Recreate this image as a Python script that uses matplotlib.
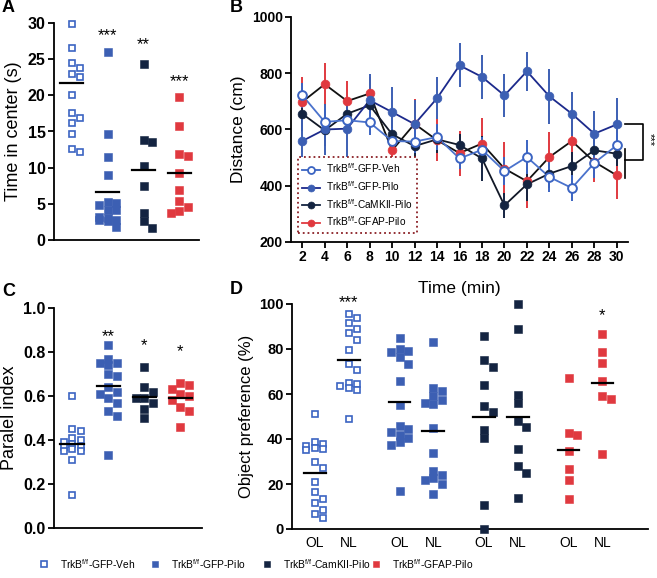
import numpy as np
import matplotlib.pyplot as plt
from matplotlib.lines import Line2D

plt.rcParams['font.family'] = ['Liberation Sans', 'DejaVu Sans']
plt.rcParams['mathtext.default'] = 'regular'

# groups / colours
names = [r'TrkB$^{f/f}$-GFP-Veh', r'TrkB$^{f/f}$-GFP-Pilo',
         r'TrkB$^{f/f}$-CaMKII-Pilo', r'TrkB$^{f/f}$-GFAP-Pilo']
names_bottom = [r'TrkB$^{f/f}$-GFP-Veh', r'TrkB$^{f/f}$-GFP-Pilo',
                r'TrkB$^{f/f}$-CamKII-Pilo', r'TrkB$^{f/f}$-GFAP-Pilo']
colors = ['#3b64c2', '#3c5fb3', '#142441', '#e0393f']
is_open = [True, False, False, False]

# A: time in center (s)
a_veh = [29.8, 26.5, 24.5, 23.8, 23.0, 22.6, 20.1, 17.5, 16.9, 16.2, 14.7, 12.6, 12.1]
a_pilo = [26.0, 14.7, 11.5, 9.0, 5.2, 5.1, 4.8, 4.2, 4.1, 3.2, 3.0, 2.8, 2.7, 2.6, 1.8]
a_cam = [24.3, 13.8, 13.6, 10.2, 7.5, 3.8, 2.6, 1.6]
a_gfap = [19.8, 15.8, 11.9, 11.6, 9.2, 6.9, 5.4, 4.6, 4.0, 3.7]
a_means = [21.7, 6.6, 9.7, 9.3]
a_stars = ['', '***', '**', '***']
a_star_y = [0, 28.3, 27.0, 21.9]

# B: distance (cm) over time
times = [2, 4, 6, 8, 10, 12, 14, 16, 18, 20, 22, 24, 26, 28, 30]
b_veh = [722, 627, 633, 625, 559, 557, 573, 497, 528, 452, 502, 431, 392, 481, 544]
b_pilo = [559, 600, 603, 704, 662, 619, 711, 828, 787, 721, 807, 718, 656, 585, 618]
b_cam = [656, 597, 656, 686, 583, 541, 565, 545, 497, 330, 405, 443, 470, 526, 514]
b_gfap = [698, 761, 701, 728, 526, 620, 562, 516, 550, 461, 416, 502, 559, 485, 437]
b_veh_err = [45, 50, 40, 45, 45, 40, 45, 38, 45, 50, 60, 55, 45, 55, 45]
b_pilo_err = [80, 90, 100, 95, 90, 85, 75, 78, 78, 75, 70, 98, 78, 80, 95]
b_cam_err = [60, 55, 50, 45, 50, 60, 50, 40, 80, 45, 60, 50, 50, 40, 45]
b_gfap_err = [90, 75, 70, 60, 60, 90, 75, 80, 90, 95, 95, 88, 90, 70, 85]

# C: paralel index
c_veh = [0.60, 0.45, 0.44, 0.41, 0.40, 0.39, 0.38, 0.37, 0.37, 0.36, 0.35, 0.35, 0.31, 0.15]
c_pilo = [0.83, 0.77, 0.75, 0.75, 0.74, 0.70, 0.69, 0.64, 0.62, 0.61, 0.59, 0.57, 0.53, 0.51, 0.33]
c_cam = [0.73, 0.64, 0.62, 0.59, 0.59, 0.57, 0.54, 0.50]
c_gfap = [0.66, 0.65, 0.63, 0.61, 0.60, 0.58, 0.55, 0.53, 0.46]
c_means = [0.38, 0.644, 0.595, 0.59]
c_stars = ['', '**', '*', '*']
c_star_y = [0, 0.87, 0.83, 0.80]

# D: object preference (%), OL / NL per group
d_veh_ol = [51, 38.5, 38, 37, 36, 35.5, 35, 30, 27, 21, 16.5, 13.5, 11.5, 8.5, 6.5, 5]
d_veh_nl = [95.5, 94, 91.5, 89, 87, 84, 79.5, 73.5, 70.5, 65, 64.5, 63.5, 62.5, 62, 49]
d_pilo_ol = [85, 80, 79, 78.5, 76.5, 73.5, 66, 55, 46, 44.5, 43, 42, 40.5, 38.5, 37.5, 17]
d_pilo_nl = [83, 62.5, 61.5, 59, 57.5, 56, 55.5, 45, 34, 26, 24, 22.5, 22, 20, 15.5]
d_cam_ol = [86, 75, 72, 64, 54.5, 52, 44, 40.5, 10.5, 0]
d_cam_nl = [100, 89, 59.5, 56, 48, 45.5, 35.5, 28, 25, 14]
d_gfap_ol = [67, 42.5, 42, 34.5, 26.5, 22, 13.5]
d_gfap_nl = [86.5, 78.5, 74, 66, 59, 58, 33.5]
d_means = [24.9, 75.0, 56.5, 43.5, 50.0, 50.0, 35.0, 65.0]
d_stars = ['', '***', '', '', '', '', '', '*']
d_star_y = [0, 100.7, 0, 0, 0, 0, 0, 94.7]
d_ticks = ['OL', 'NL'] * 4

W, H = 657, 578
fig = plt.figure(figsize=(W / 100, H / 100), dpi=100)


def box(l, t, r, b):
    return [l / W, 1 - b / H, (r - l) / W, (b - t) / H]


def style(ax, size):
    for s in ['top', 'right']:
        ax.spines[s].set_visible(False)
    for s in ['left', 'bottom']:
        ax.spines[s].set_linewidth(1.3)
    ax.tick_params(width=1.3, length=4, labelsize=size, pad=2)


def swarm(ax, x0, vals, step, ks=(0, 1, -1)):
    # pack points into at most 3 columns (pixel space), GraphPad-like
    pts = ax.transData.transform(np.column_stack([np.full(len(vals), x0), vals]))
    placed = []
    xs = []
    for px, py in pts:
        best, best_d = px, -1
        for k in ks:
            cx = px + k * step
            d = min([max(abs(cx - qx), abs(py - qy)) for qx, qy in placed], default=1e9)
            if d >= step * 0.9:
                best = cx
                break
            if d > best_d:
                best, best_d = cx, d
        placed.append((best, py))
        xs.append(best)
    back = ax.transData.inverted().transform(np.column_stack([xs, pts[:, 1]]))
    return back[:, 0]


def dots(ax, x0, vals, color, opn, ms=5.2, step=8.5):
    xs = swarm(ax, x0, vals, step)
    if opn:
        ax.plot(xs, vals, 's', ls='none', ms=ms - 0.6, mfc='white', mec=color, mew=1.2,
                clip_on=False, zorder=3)
    else:
        ax.plot(xs, vals, 's', ls='none', ms=ms, mfc=color, mec=color, mew=0.4,
                clip_on=False, zorder=3)


# ---------- A ----------
axA = fig.add_axes(box(54, 23, 199, 240))
axA.set_xlim(0.5, 4.55)
axA.set_ylim(0, 30)
style(axA, 11.5)
axA.set_xticks([])
axA.set_yticks(np.arange(0, 31, 5))
axA.set_yticklabels([str(v) for v in range(0, 31, 5)], fontweight='bold')
for i, vals in enumerate([a_veh, a_pilo, a_cam, a_gfap]):
    dots(axA, i + 1, vals, colors[i], is_open[i])
    axA.plot([i + 0.68, i + 1.32], [a_means[i]] * 2, color='black', lw=1.6, zorder=4)
    if a_stars[i]:
        axA.text(i + 1, a_star_y[i], a_stars[i], ha='center', va='center', fontsize=12)
axA.set_ylabel('Time in center (s)', fontsize=13, labelpad=4)

# ---------- B ----------
axB = fig.add_axes(box(291, 17, 628, 242))
axB.set_xlim(1.0, 31.0)
axB.set_ylim(200, 1000)
style(axB, 10)
axB.set_xticks(times)
axB.set_xticklabels([str(t) for t in times], fontweight='bold')
axB.set_yticks([200, 400, 600, 800, 1000])
axB.set_yticklabels(['200', '400', '600', '800', '1000'], fontweight='bold')

line_cols = ['#4a72cc', '#1c2a8c', '#111827', '#111111']
series = [b_gfap, b_cam, b_pilo, b_veh]
errs = [b_gfap_err, b_cam_err, b_pilo_err, b_veh_err]
order = [3, 2, 1, 0]
for s, e, i in zip(series, errs, order):
    axB.errorbar(times, s, yerr=e, fmt='none', ecolor=colors[i], elinewidth=1.4,
                 capsize=0, zorder=2)
for s, i in zip(series, order):
    axB.plot(times, s, '-', color=line_cols[i], lw=1.3, zorder=3)
for s, i in zip(series, order):
    axB.plot(times, s, 'o', ls='none', ms=6.3,
             mfc='white' if is_open[i] else colors[i], mec=colors[i],
             mew=1.4 if is_open[i] else 0.5, zorder=4)

# significance bracket
others_last = [b_veh[-1], b_cam[-1], b_gfap[-1]]
xa, xb = 30.75, 32.35
top = b_pilo[-1]
mid = (min(others_last) + max(others_last)) / 2
axB.plot([xa, xb, xb, xa], [top, top, mid, mid], color='black', lw=1.2, clip_on=False)
axB.plot([xa, xa], [min(others_last) - 10, max(others_last) - 15], color='black', lw=1.2,
         clip_on=False)
axB.text(32.95, (top + mid) / 2 + 10, '***', rotation=270, ha='center', va='center',
         fontsize=8)

leg_handles = []
for i in range(4):
    lc = colors[i] if i != 1 else line_cols[1]
    leg_handles.append(Line2D([], [], color=lc, lw=1.3, marker='o', ms=5,
                              mfc='white' if is_open[i] else colors[i], mec=colors[i],
                              mew=1.3 if is_open[i] else 0.5))
leg = axB.legend(leg_handles, names, loc='lower left', bbox_to_anchor=(0.02, 0.04),
                 borderaxespad=0, fontsize=7.3, handlelength=1.7, labelspacing=0.38,
                 handletextpad=0.6, borderpad=0.45, fancybox=False, framealpha=1)
leg.get_frame().set_edgecolor('#8a1f24')
leg.get_frame().set_linestyle(':')
leg.get_frame().set_linewidth(1.3)
axB.set_xlabel('Time (min)', fontsize=12.5, labelpad=12)
axB.set_ylabel('Distance (cm)', fontsize=12.5, labelpad=4)

# ---------- C ----------
axC = fig.add_axes(box(54, 308, 202, 528))
axC.set_xlim(0.5, 4.6)
axC.set_ylim(0, 1.0)
style(axC, 11.5)
axC.set_xticks([])
axC.set_yticks(np.arange(0, 1.01, 0.2))
axC.set_yticklabels(['0.0', '0.2', '0.4', '0.6', '0.8', '1.0'], fontweight='bold')
for i, vals in enumerate([c_veh, c_pilo, c_cam, c_gfap]):
    dots(axC, i + 1, vals, colors[i], is_open[i])
    axC.plot([i + 0.68, i + 1.32], [c_means[i]] * 2, color='black', lw=1.6, zorder=4)
    if c_stars[i]:
        axC.text(i + 1, c_star_y[i], c_stars[i], ha='center', va='center', fontsize=12)
axC.set_ylabel('Paralel index', fontsize=13, labelpad=4)

# ---------- D ----------
axD = fig.add_axes(box(292, 304, 648, 529))
axD.set_xlim(0.32, 10.85)
axD.set_ylim(0, 100)
style(axD, 10.5)
d_pos = [1, 2, 3.5, 4.5, 6, 7, 8.5, 9.5]
axD.set_xticks(d_pos)
axD.set_xticklabels(d_ticks, fontsize=10)
axD.tick_params(axis='x', length=0, pad=5)
axD.set_yticks(np.arange(0, 101, 20))
axD.set_yticklabels([str(v) for v in range(0, 101, 20)], fontweight='bold')
d_sets = [d_veh_ol, d_veh_nl, d_pilo_ol, d_pilo_nl, d_cam_ol, d_cam_nl, d_gfap_ol, d_gfap_nl]
for j, vals in enumerate(d_sets):
    g = j // 2
    dots(axD, d_pos[j], vals, colors[g], is_open[g], ms=5.4, step=8.5)
    axD.plot([d_pos[j] - 0.32, d_pos[j] + 0.32], [d_means[j]] * 2, color='black', lw=1.6,
             zorder=4)
    if d_stars[j]:
        axD.text(d_pos[j], d_star_y[j], d_stars[j], ha='center', va='center', fontsize=12)
axD.set_ylabel('Object preference (%)', fontsize=12, labelpad=4)

# panel letters
for lab, x, y in [('A', 2, 8), ('B', 230, 8), ('C', 2, 291), ('D', 230, 290)]:
    fig.text(x / W, 1 - y / H, lab, fontsize=13, fontweight='bold', va='center', ha='left')

# bottom legend (fixed pitch, drawn in a pixel-space overlay)
ov = fig.add_axes([0, 0, 1, 1], zorder=-1)
ov.set_xlim(0, W)
ov.set_ylim(H, 0)
ov.axis('off')
leg_mx = [44, 155, 267, 376]
for i in range(4):
    ov.plot(leg_mx[i], 564, 's', ms=5 if not is_open[i] else 4.4,
            mfc='white' if is_open[i] else colors[i], mec=colors[i],
            mew=1.2 if is_open[i] else 0.4)
    ov.text(leg_mx[i] + 16, 564, names_bottom[i], fontsize=7.4, va='center', ha='left')

fig.savefig('out.png', dpi=100)
